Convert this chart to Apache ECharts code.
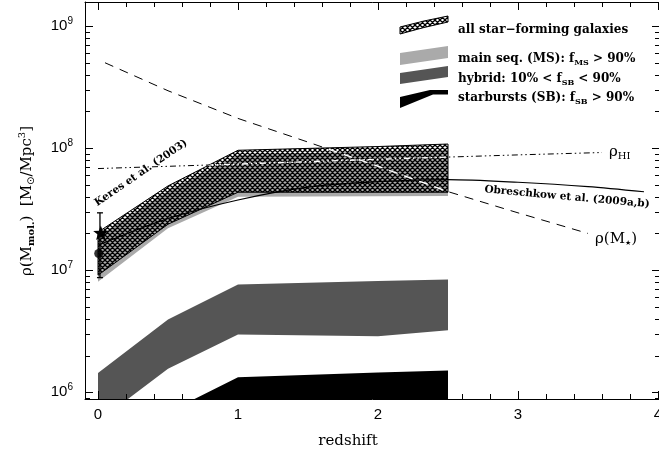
<!DOCTYPE html>
<html><head><meta charset="utf-8">
<script src="https://cdn.jsdelivr.net/npm/echarts@6/dist/echarts.min.js"></script>
<style>html,body{margin:0;padding:0;background:#fff}#c{width:659px;height:462px}</style>
</head><body><div id="c"></div><script>
// ---------- data ----------
const zGrid   = [0, 0.5, 1, 2, 2.5];
const allHigh = [2.05e7, 4.9e7, 9.6e7, 1.03e8, 1.08e8];
const allLow  = [9.1e6, 2.38e7, 4.35e7, 4.35e7, 4.35e7];
const msHigh  = [1.9e7, 4.45e7, 8.77e7, 9.44e7, 9.64e7];
const msLow   = [8.06e6, 2.21e7, 4.0e7, 4.03e7, 4.05e7];
const hybHigh = [1.44e6, 3.94e6, 7.64e6, 8.15e6, 8.4e6];
const hybLow  = [5.75e5, 1.56e6, 2.97e6, 2.88e6, 3.22e6];
const sbHigh  = [3.2e5, 6.86e5, 1.33e6, 1.45e6, 1.51e6];
const sbLow   = [1e5, 1e5, 1e5, 1e5, 1e5];

const hiZ    = [0, 1, 2, 3, 3.6];
const hiRho  = [6.8e7, 7.4e7, 8.1e7, 8.8e7, 9.2e7];
const mstarZ   = [0.05, 0.5, 1, 1.5, 2, 2.5, 3, 3.5];
const mstarRho = [5.0e8, 2.95e8, 1.75e8, 1.12e8, 7.1e7, 4.4e7, 2.95e7, 2.0e7];
const obrZ   = [0, 0.5, 1, 1.5, 2, 2.5, 3, 3.5, 3.9];
const obrRho = [1.6e7, 2.65e7, 3.76e7, 4.79e7, 5.31e7, 5.52e7, 5.25e7, 4.84e7, 4.39e7];

const keresZ = [0.02], keresRho = [2.0e7];
const pointZ = [0.005], pointRho = [1.37e7];
const errZ = [0.014], errLow = [8.7e6], errHigh = [2.95e7];

const xTickLabels = ['0', '1', '2', '3', '4'];
const yTickExps = ['6', '7', '8', '9'];

// ---------- axes ----------
const X_MIN = -0.0929, X_MAX = 4.0143;
const Y_MIN = 8.813e5, Y_MAX = 1.5727e9;

function hatch(bg) {
  const s = 5, c = document.createElement('canvas'); c.width = s; c.height = s;
  const g = c.getContext('2d');
  if (bg) { g.fillStyle = bg; g.fillRect(0, 0, s, s); }
  g.strokeStyle = '#000'; g.lineWidth = 1.3;
  g.beginPath();
  for (let k = -1; k <= 1; k++) { g.moveTo(k*s, 0); g.lineTo(k*s + s, s); g.moveTo(k*s + s, 0); g.lineTo(k*s, s); }
  g.stroke();
  return c;
}
const hatchT = { type: 'pattern', image: hatch(null), repeat: 'repeat' };
const hatchW = { type: 'pattern', image: hatch('#fff'), repeat: 'repeat' };

function bandPoly(api, xs, lo, hi) {
  const pts = [];
  for (let i = 0; i < xs.length; i++) pts.push(api.coord([xs[i], hi[i]]));
  for (let i = xs.length - 1; i >= 0; i--) pts.push(api.coord([xs[i], lo[i]]));
  return pts;
}
function band(name, lo, hi, style, z) {
  return { type: 'custom', name, z, clip: true, silent: true, animation: false,
    data: [[zGrid[0], hi[0]]],
    renderItem: (p, api) => ({ type: 'polygon', shape: { points: bandPoly(api, zGrid, lo, hi) }, style }) };
}
const toPairs = (xs, ys) => xs.map((x, i) => [x, ys[i]]);

const serif = 'DejaVu Serif';
const sans = 'Liberation Sans';

const chart = echarts.init(document.getElementById('c'), null, { renderer: 'canvas' });
const axisCommon = { axisLine: { show: true, onZero: false, lineStyle: { color: '#000', width: 1 } }, splitLine: { show: false }, z: 10 };

chart.setOption({
  animation: false,
  backgroundColor: '#fff',
  grid: { left: 85, top: 2, width: 575, height: 397, containLabel: false, outerBoundsMode: 'none' },
  xAxis: [
    Object.assign({ type: 'value', min: X_MIN, max: X_MAX, position: 'bottom',
      axisTick: { show: true, inside: true, length: 8, lineStyle: { color: '#000' } },
      minorTick: { show: true, splitNumber: 5, length: 5, lineStyle: { color: '#000' } },
      axisLabel: { show: true, margin: 8, color: '#000', fontSize: 15, fontFamily: sans,
        formatter: v => (Number.isInteger(v) && v >= 0 && v < xTickLabels.length) ? xTickLabels[v] : '' } }, axisCommon),
    Object.assign({ type: 'value', min: X_MIN, max: X_MAX, position: 'top',
      axisTick: { show: true, inside: true, length: 8, lineStyle: { color: '#000' } },
      minorTick: { show: true, splitNumber: 5, length: 5, lineStyle: { color: '#000' } },
      axisLabel: { show: false } }, axisCommon)
  ],
  yAxis: [
    Object.assign({ type: 'log', logBase: 10, min: Y_MIN, max: Y_MAX, position: 'left',
      axisTick: { show: true, inside: true, length: 8, lineStyle: { color: '#000' } },
      axisLabel: { show: true, margin: 12, color: '#000',
        formatter: v => { const l = Math.log10(v), e = Math.round(l);
          if (Math.abs(l - e) > 1e-6) return ''; const i = yTickExps.indexOf(String(e));
          return i < 0 ? '' : '{b|10}{s|' + yTickExps[i] + '}'; },
        rich: { b: { fontSize: 15, fontFamily: sans, color: '#000' },
                s: { fontSize: 10, fontFamily: sans, color: '#000', padding: [0, 0, 10, 0] } } } }, axisCommon),
    Object.assign({ type: 'log', logBase: 10, min: Y_MIN, max: Y_MAX, position: 'right',
      axisTick: { show: true, inside: true, length: 8, lineStyle: { color: '#000' } },
      axisLabel: { show: false } }, axisCommon)
  ],
  series: [
    { type: 'line', name: 'rhoHI', z: 1, silent: true, symbol: 'none', data: toPairs(hiZ, hiRho),
      lineStyle: { color: '#000', width: 1, type: [6, 3, 1.5, 3, 1.5, 3] } },
    { type: 'line', name: 'rhoMstar', z: 1, silent: true, symbol: 'none', data: toPairs(mstarZ, mstarRho),
      lineStyle: { color: '#000', width: 1, type: [9, 7] } },
    band('MS', msLow, msHigh, { fill: '#aaaaaa' }, 2),
    band('all', allLow, allHigh, { fill: hatchT, stroke: '#000', lineWidth: 1 }, 3),
    { type: 'custom', name: 'whiteLines', z: 4, clip: true, silent: true, data: [[0, 1e8]],
      renderItem: (p, api) => {
        const clipPts = bandPoly(api, zGrid, allLow, allHigh);
        const h = hiZ.map((x, i) => api.coord([x, hiRho[i]]));
        const m = mstarZ.map((x, i) => api.coord([x, mstarRho[i]]));
        return { type: 'group', children: [
          { type: 'polyline', shape: { points: h }, clipPath: { type: 'polygon', shape: { points: clipPts } },
            style: { stroke: '#fff', lineWidth: 1.4, fill: null, lineDash: [6, 3, 1.5, 3, 1.5, 3] } },
          { type: 'polyline', shape: { points: m }, clipPath: { type: 'polygon', shape: { points: clipPts } },
            style: { stroke: '#fff', lineWidth: 1.4, fill: null, lineDash: [9, 7] } }
        ] };
      } },
    band('hybrid', hybLow, hybHigh, { fill: '#555555' }, 3),
    band('SB', sbLow, sbHigh, { fill: '#000000' }, 3),
    { type: 'line', name: 'Obreschkow', z: 5, silent: true, symbol: 'none', smooth: 0.3, data: toPairs(obrZ, obrRho),
      lineStyle: { color: '#000', width: 1.2 } },
    { type: 'custom', name: 'err', z: 6, silent: true, data: errZ.map((z, i) => [z, errLow[i], errHigh[i]]),
      encode: { x: 0, y: [1, 2] },
      renderItem: (p, api) => {
        const a = api.coord([api.value(0), api.value(1)]), b = api.coord([api.value(0), api.value(2)]);
        const st = { stroke: '#000', lineWidth: 1.3 };
        return { type: 'group', children: [
          { type: 'line', shape: { x1: a[0], y1: a[1], x2: b[0], y2: b[1] }, style: st },
          { type: 'line', shape: { x1: a[0] - 3, y1: a[1], x2: a[0] + 3, y2: a[1] }, style: st },
          { type: 'line', shape: { x1: b[0] - 3, y1: b[1], x2: b[0] + 3, y2: b[1] }, style: st }
        ] };
      } },
    { type: 'scatter', name: 'point', z: 7, silent: true, symbol: 'circle', symbolSize: 9,
      data: toPairs(pointZ, pointRho), itemStyle: { color: '#000' } },
    { type: 'custom', name: 'Keres', z: 8, silent: true, clip: false, data: toPairs(keresZ, keresRho),
      renderItem: (p, api) => {
        const c = api.coord([api.value(0), api.value(1)]), R = 8, r = 3.3, pts = [];
        for (let k = 0; k < 10; k++) {
          const ang = -Math.PI / 2 + k * Math.PI / 5, rad = (k % 2) ? r : R;
          pts.push([c[0] + rad * Math.cos(ang), c[1] + rad * Math.sin(ang)]);
        }
        return { type: 'polygon', shape: { points: pts }, style: { fill: '#000' } };
      } },
    { type: 'custom', name: 'minorY', z: 11, silent: true, clip: false, data: [[0, 1e7]],
      renderItem: (p, api) => {
        const cs = p.coordSys, ch = [];
        for (let e = 5; e <= 9; e++) for (let m = 2; m <= 9; m++) {
          const v = m * Math.pow(10, e); if (v <= Y_MIN || v >= Y_MAX) continue;
          const y = Math.round(api.coord([0, v])[1]) + 0.5;
          ch.push({ type: 'line', shape: { x1: cs.x, y1: y, x2: cs.x + 5, y2: y }, style: { stroke: '#000', lineWidth: 1 } });
          ch.push({ type: 'line', shape: { x1: cs.x + cs.width - 5, y1: y, x2: cs.x + cs.width, y2: y }, style: { stroke: '#000', lineWidth: 1 } });
        }
        return { type: 'group', children: ch };
      } }
  ],
  graphic: [
    // legend icons
    { type: 'polygon', z: 20, shape: { points: [[400,34],[424,27.5],[448,22],[448,16],[424,21],[400,27]] }, style: { fill: hatchW, stroke: '#000', lineWidth: 1 } },
    { type: 'polygon', z: 20, shape: { points: [[400,53],[448,46],[448,58],[400,65]] }, style: { fill: '#aaaaaa' } },
    { type: 'polygon', z: 20, shape: { points: [[400,73],[448,66],[448,77],[400,84]] }, style: { fill: '#555555' } },
    { type: 'polygon', z: 20, shape: { points: [[400,97],[430,90],[448,90],[448,94.5],[433,94.5],[400,108]] }, style: { fill: '#000' } },
    // legend texts
    { type: 'text', z: 20, x: 458, y: 30, style: { text: 'all star\u2212forming galaxies', fill: '#000', font: 'bold 12px "DejaVu Serif"', verticalAlign: 'middle' } },
    { type: 'text', z: 20, x: 458, y: 59, style: { text: '{a|main seq. (MS): f}{s|MS}{a| > 90%}', verticalAlign: 'middle',
        rich: { a: { fontSize: 12, fontWeight: 'bold', fontFamily: serif, color: '#b0b0b0' }, s: { fontSize: 8, fontWeight: 'bold', fontFamily: serif, color: '#b0b0b0', padding: [8, 0, 0, 0] } } } },
    { type: 'text', z: 20, x: 458, y: 79, style: { text: '{a|hybrid: 10% < f}{s|SB}{a| < 90%}', verticalAlign: 'middle',
        rich: { a: { fontSize: 12, fontWeight: 'bold', fontFamily: serif, color: '#2a2a2a' }, s: { fontSize: 8, fontFamily: serif, fontWeight: 'bold', color: '#2a2a2a', padding: [8, 0, 0, 0] } } } },
    { type: 'text', z: 20, x: 458, y: 98, style: { text: '{a|starbursts (SB): f}{s|SB}{a| > 90%}', verticalAlign: 'middle',
        rich: { a: { fontSize: 12, fontWeight: 'bold', fontFamily: serif, color: '#000' }, s: { fontSize: 8, fontFamily: serif, fontWeight: 'bold', color: '#000', padding: [8, 0, 0, 0] } } } },
    // annotations
    { type: 'text', z: 20, x: 141, y: 173, rotation: 0.60, style: { text: 'Keres et al. (2003)', fill: '#000', font: 'bold 10.5px "DejaVu Serif"', align: 'center', verticalAlign: 'middle' } },
    { type: 'text', z: 20, x: 567, y: 197, rotation: -0.09, style: { text: 'Obreschkow et al. (2009a,b)', fill: '#000', font: 'bold 10.5px "DejaVu Serif"', align: 'center', verticalAlign: 'middle' } },
    { type: 'text', z: 20, x: 609, y: 152, style: { text: '{a|\u03c1}{s|HI}', verticalAlign: 'middle',
        rich: { a: { fontSize: 15, fontFamily: serif, color: '#000' }, s: { fontSize: 10, fontFamily: serif, color: '#000', padding: [8, 0, 0, 0] } } } },
    { type: 'text', z: 20, x: 595, y: 239, style: { text: '{a|\u03c1(M}{s|\u2605}{a|)}', verticalAlign: 'middle',
        rich: { a: { fontSize: 15, fontFamily: serif, color: '#000' }, s: { fontSize: 7, fontFamily: 'DejaVu Sans', color: '#000', padding: [8, 0, 0, 0] } } } },
    // axis titles
    { type: 'text', z: 20, x: 348, y: 441, style: { text: 'redshift', fill: '#000', font: '15px "DejaVu Serif"', align: 'center', verticalAlign: 'middle' } },
    { type: 'text', z: 20, x: 27, y: 201, rotation: Math.PI / 2, style: {
        text: '{a|\u03c1(M}{sb|mol.}{a|)  [M}{s|\u2299}{a|/Mpc}{p|3}{a|]}', align: 'center', verticalAlign: 'middle',
        rich: { a: { fontSize: 15, fontFamily: serif, color: '#000' },
                sb: { fontSize: 10, fontFamily: serif, fontWeight: 'bold', color: '#000', padding: [9, 0, 0, 0] },
                s: { fontSize: 10, fontFamily: 'DejaVu Sans', color: '#000', padding: [9, 0, 0, 0] },
                p: { fontSize: 10, fontFamily: serif, color: '#000', padding: [0, 0, 10, 0] } } } }
  ]
});
</script></body></html>
